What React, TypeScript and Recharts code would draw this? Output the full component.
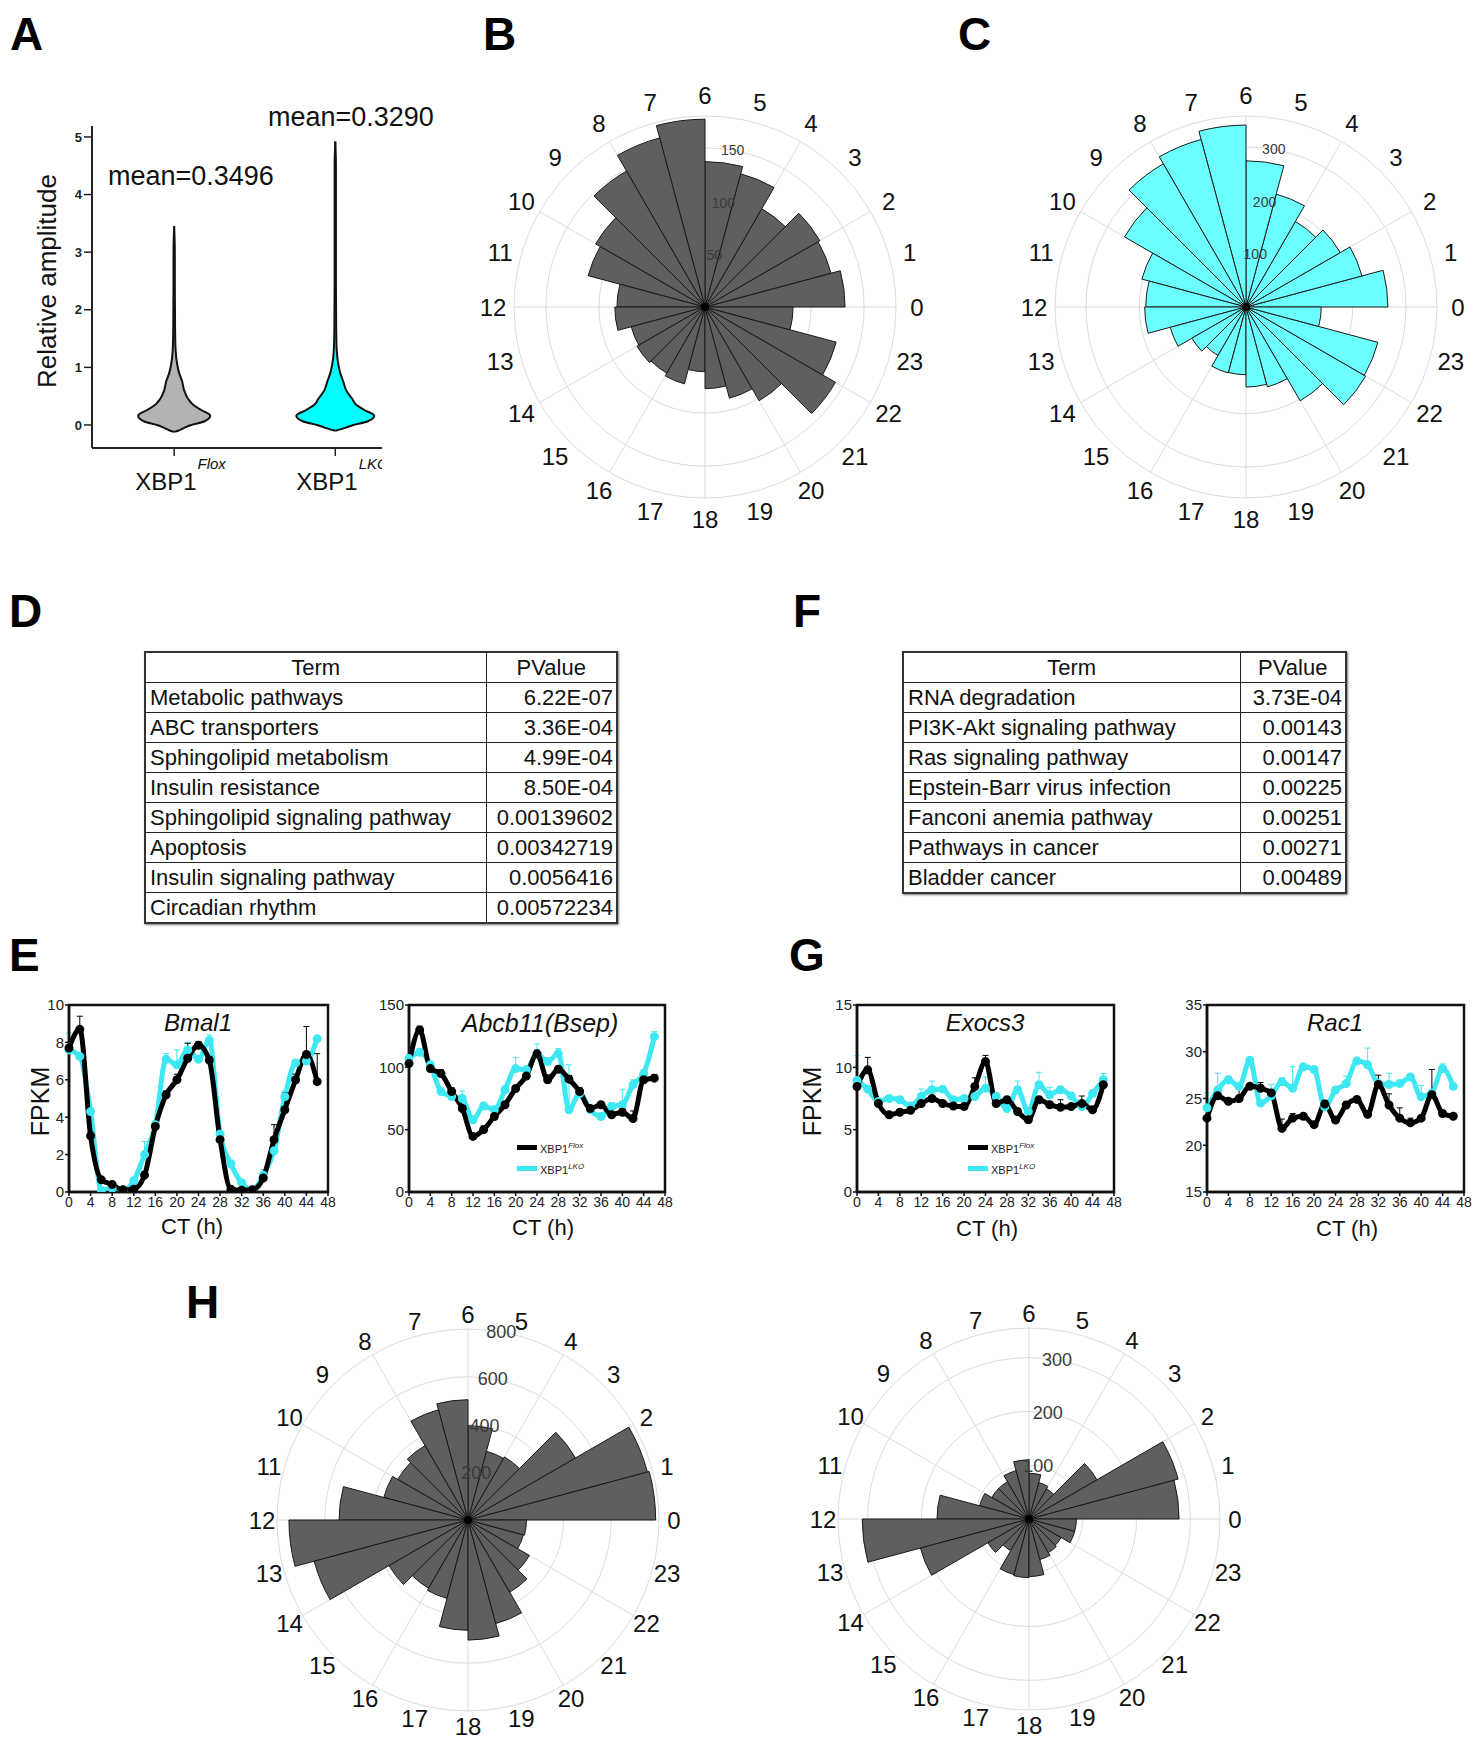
import React from "react";
import {
  RadialBarChart,
  RadialBar,
  PolarGrid,
  PolarAngleAxis,
  PolarRadiusAxis,
  ComposedChart,
  Area,
  LineChart,
  Line,
  XAxis,
  YAxis,
  ErrorBar,
  ReferenceArea,
} from "recharts";

const FONT = "'Liberation Sans', Arial, Helvetica, sans-serif";
const CYAN = "#3ee8f2";
const DARK = "#5f5f5f";

// ---------- panel A: violins (half widths in x-axis units) ----------
const floxLevels = [-0.12, -0.1, -0.05, 0, 0.06, 0.16, 0.26, 0.35, 0.45, 0.6, 0.75, 0.9, 1.05, 1.3, 1.6, 2.0, 2.5, 3.0, 3.45];
const floxHalf = [0, 0.025, 0.062, 0.106, 0.186, 0.224, 0.168, 0.118, 0.087, 0.062, 0.05, 0.031, 0.019, 0.009, 0.006, 0.005, 0.004, 0.004, 0];
const lkoLevels = [-0.1, -0.05, 0, 0.06, 0.16, 0.26, 0.35, 0.45, 0.6, 0.75, 0.9, 1.05, 1.3, 1.6, 2.0, 2.5, 3.0, 3.45, 4.0, 4.5, 4.92];
const lkoHalf = [0, 0.062, 0.112, 0.199, 0.242, 0.18, 0.13, 0.106, 0.068, 0.05, 0.031, 0.019, 0.009, 0.006, 0.005, 0.004, 0.004, 0.004, 0.004, 0.004, 0];
const violinTicks = [0, 1, 2, 3, 4, 5];

// ---------- rose plots (counts per circadian hour) ----------
const hours = Array.from({ length: 24 }, (_, i) => String(i));
const roseB = [132, 123, 125, 107, 130, 137, 177, 165, 148, 119, 114, 83, 85, 72, 74, 72, 75, 61, 77, 89, 102, 142, 128, 83];
const roseC = [266, 225, 204, 185, 219, 274, 341, 325, 310, 263, 202, 188, 190, 147, 117, 105, 128, 127, 150, 155, 203, 259, 256, 141];
const roseH1 = [786, 778, 520, 305, 298, 395, 504, 478, 360, 340, 365, 540, 750, 667, 382, 330, 340, 462, 503, 449, 349, 297, 240, 245];
const roseH2 = [279, 287, 146, 65, 70, 85, 110, 93, 80, 80, 95, 171, 310, 209, 88, 68, 107, 109, 107, 78, 72, 69, 88, 88];

// ---------- time courses ----------
const ct = [0, 2, 4, 6, 8, 10, 12, 14, 16, 18, 20, 22, 24, 26, 28, 30, 32, 34, 36, 38, 40, 42, 44, 46];
const ctTicks = [0, 4, 8, 12, 16, 20, 24, 28, 32, 36, 40, 44, 48];

const bmalFlox = [7.7, 8.7, 3.0, 0.65, 0.4, 0.12, 0.15, 0.9, 3.5, 5.2, 6.0, 7.15, 7.85, 7.05, 2.8, 0.15, 0.1, 0.12, 0.75, 2.8, 4.4, 6.0, 7.35, 5.9];
const bmalLko = [7.6, 7.25, 4.3, 0.1, 0.2, 0.1, 0.6, 2.0, 3.6, 7.1, 6.8, 7.6, 7.1, 8.1, 3.1, 1.5, 0.5, 0.1, 0.9, 2.2, 5.1, 6.9, 7.0, 8.2];
const bmalFloxErr = [0.3, 0.7, 0.2, 0.1, 0.1, 0.1, 0.1, 0.2, 0.2, 0.2, 0.3, 0.8, 0.2, 0.2, 0.2, 0.1, 0.1, 0.1, 0.2, 0.8, 0.9, 0.3, 1.5, 1.5];
const bmalLkoErr = [0.9, 0.2, 0.2, 0.1, 0.1, 0.1, 0.1, 0.7, 0.2, 0.3, 0.8, 0.4, 0.2, 0.3, 0.1, 0.2, 0.1, 0.1, 0.3, 0.1, 0.3, 0.1, 0.2, 0.1];

const abcbFlox = [103, 130, 99, 95, 80.6, 67, 44.6, 50, 60.6, 70, 83, 93, 110.8, 90, 98.5, 90.5, 80.6, 67, 70, 62, 64, 59, 90, 91.3];
const abcbLko = [107, 112, 102, 80.6, 76.6, 75, 58, 69, 66, 82, 99, 98, 110.8, 104.6, 111, 66, 79, 66, 60.6, 68.6, 70, 86, 95, 124.6];
const abcbFloxErr = [2, 3, 2, 3, 3, 2, 2, 3, 2, 2, 2, 3, 3, 4, 2, 3, 3, 2, 2, 2, 3, 6, 3, 3];
const abcbLkoErr = [3, 3, 3, 3, 3, 6, 3, 2, 3, 3, 9, 3, 8, 3, 4, 36, 3, 3, 3, 3, 12, 4, 3, 4];

const exoFlox = [8.46, 9.8, 7.1, 6.2, 6.4, 6.55, 7.1, 7.5, 7.1, 6.9, 6.85, 8.46, 10.46, 7.1, 7.4, 6.45, 5.8, 7.4, 7.0, 6.8, 6.85, 7.1, 6.6, 8.6];
const exoLko = [8.94, 8.25, 7.26, 7.5, 7.4, 6.9, 7.66, 8.2, 8.25, 7.4, 7.5, 7.66, 8.33, 7.66, 6.7, 8.2, 6.45, 8.6, 7.8, 8.2, 7.7, 6.85, 7.9, 9.0];
const exoFloxErr = [0.2, 1.0, 0.2, 0.2, 0.2, 0.2, 0.2, 0.2, 0.2, 0.2, 0.2, 0.7, 0.5, 0.2, 0.2, 0.2, 0.2, 0.2, 0.2, 0.6, 0.2, 0.6, 0.2, 0.4];
const exoLkoErr = [2.0, 0.2, 0.2, 0.2, 0.2, 0.2, 0.6, 0.7, 0.2, 0.2, 0.2, 0.2, 0.9, 0.2, 0.2, 0.7, 0.2, 1.0, 0.6, 0.2, 0.2, 0.2, 0.2, 0.5];

const racFlox = [22.9, 25.3, 24.7, 25.0, 26.3, 26.1, 25.6, 21.8, 22.9, 23.1, 22.2, 24.4, 22.7, 24.3, 24.9, 23.3, 26.5, 24.3, 22.9, 22.4, 22.9, 25.4, 23.4, 23.1];
const racLko = [24.0, 25.9, 27.0, 26.3, 29.1, 24.5, 25.3, 26.8, 26.1, 28.4, 28.1, 24.1, 25.9, 26.6, 29.0, 28.6, 26.6, 26.5, 26.6, 27.3, 25.2, 25.6, 28.2, 26.3];
const racFloxErr = [0.2, 0.3, 0.2, 1.0, 0.2, 0.6, 0.2, 1.0, 0.5, 0.2, 0.2, 0.4, 0.2, 0.3, 0.2, 0.2, 1.0, 1.2, 1.1, 0.5, 0.2, 2.7, 0.2, 0.2];
const racLkoErr = [1.6, 1.8, 0.3, 0.2, 0.2, 0.2, 1.2, 0.4, 2.3, 0.2, 0.2, 0.2, 0.2, 0.8, 0.2, 1.8, 0.2, 1.2, 0.2, 0.2, 1.2, 0.2, 0.5, 0.2];

// ---------- KEGG tables ----------
const termsD = ["Metabolic pathways", "ABC transporters", "Sphingolipid metabolism", "Insulin resistance", "Sphingolipid signaling pathway", "Apoptosis", "Insulin signaling pathway", "Circadian rhythm"];
const pvalsD = ["6.22E-07", "3.36E-04", "4.99E-04", "8.50E-04", "0.00139602", "0.00342719", "0.0056416", "0.00572234"];
const termsF = ["RNA degradation", "PI3K-Akt signaling pathway", "Ras signaling pathway", "Epstein-Barr virus infection", "Fanconi anemia pathway", "Pathways in cancer", "Bladder cancer"];
const pvalsF = ["3.73E-04", "0.00143", "0.00147", "0.00225", "0.00251", "0.00271", "0.00489"];

const floxRows = floxLevels.map((amp, i) => ({ amp, v: [1 - floxHalf[i], 1 + floxHalf[i]] }));
const lkoRows = lkoLevels.map((amp, i) => ({ amp, v: [2 - lkoHalf[i], 2 + lkoHalf[i]] }));

function Letter({ ch, left, top }: { ch: string; left: number; top: number }) {
  return (
    <div style={{ position: "absolute", left, top, fontSize: 46, fontWeight: 700, lineHeight: "46px", fontFamily: FONT }}>{ch}</div>
  );
}

function Txt({ children, left, top, size, italic, width, align, rotate }: any) {
  return (
    <div
      style={{
        position: "absolute",
        left,
        top,
        width,
        fontSize: size,
        lineHeight: `${size}px`,
        fontFamily: FONT,
        fontStyle: italic ? "italic" : "normal",
        textAlign: align || "left",
        whiteSpace: "nowrap",
        transform: rotate ? `rotate(${rotate}deg)` : undefined,
        color: "#111",
      }}
    >
      {children}
    </div>
  );
}

const xbpTick = (props: any) => {
  const sup = props.payload.value === 1 ? "Flox" : "LKO";
  return (
    <text x={props.x - 39} y={props.y + 32} fontSize={24} fontFamily={FONT} fill="#111">
      XBP1
      <tspan dx={1} dy={-21} fontSize={15} fontStyle="italic">{sup}</tspan>
    </text>
  );
};

// one violin per chart; the two charts share the same plot box and are stacked
function Violin({ rows, fill, showAxes }: { rows: any[]; fill: string; showAxes: boolean }) {
  const axisStroke = { stroke: "#222", strokeWidth: 2 };
  return (
    <div style={{ position: "absolute", left: 0, top: 0 }}>
      <ComposedChart layout="vertical" width={382} height={520} data={rows} margin={{ top: 126, right: 0, bottom: 0, left: 0 }}>
        <XAxis type="number" domain={[0.49, 2.29]} allowDataOverflow ticks={[1, 2]} tick={showAxes ? xbpTick : false} tickSize={8} height={72}
          axisLine={showAxes ? axisStroke : false} tickLine={showAxes ? { stroke: "#222", strokeWidth: 1.5 } : false} />
        <YAxis type="number" dataKey="amp" reversed domain={[-0.4, 5.19]} allowDataOverflow ticks={violinTicks} width={92} tickSize={8}
          tickMargin={2} axisLine={showAxes ? axisStroke : false} tickLine={showAxes ? { stroke: "#222", strokeWidth: 1.5 } : false}
          tick={showAxes ? { fontSize: 13, fontWeight: 700, fill: "#222", fontFamily: FONT } : false} />
        <Area dataKey="v" type="monotone" fill={fill} fillOpacity={1} stroke="#111" strokeWidth={2} isAnimationActive={false} />
      </ComposedChart>
    </div>
  );
}

function Rose({ values, rmax, rings, fill, cx, cy, labelR, ringFont }: { values: number[]; rmax: number; rings: number[]; fill: string; cx: number; cy: number; labelR: number; ringFont: number }) {
  const size = 500;
  const c = 250;
  const R = 191;
  const data = hours.map((h, i) => ({ hour: h, n: values[i] }));
  const ringRadii = [...rings, rmax].filter((v, i, a) => a.indexOf(v) === i).map((v) => (R * v) / rmax);
  const spokes = Array.from({ length: 12 }, (_, i) => i * 30);
  const hourTick = (p: any) => {
    const a = (Number(p.payload.value) * 15 * Math.PI) / 180;
    return (
      <text x={c + labelR * Math.cos(a)} y={c - labelR * Math.sin(a)} textAnchor="middle" dominantBaseline="central" fontSize={24} fontFamily={FONT} fill="#111">
        {p.payload.value}
      </text>
    );
  };
  const ringTick = (p: any) => (
    <text x={p.x} y={p.y} textAnchor="middle" dominantBaseline="central" fontSize={ringFont} fontFamily={FONT} fill="#3a3a3a">
      {p.payload.value}
    </text>
  );
  return (
    <div style={{ position: "absolute", left: cx - c, top: cy - c }}>
      <RadialBarChart width={size} height={size} cx={c} cy={c} innerRadius={0} outerRadius={R} data={data} layout="centric"
        startAngle={15} endAngle={375} barCategoryGap={0} barGap={0}>
        <PolarGrid gridType="circle" polarAngles={spokes} polarRadius={ringRadii} stroke="#dcdcdc" strokeWidth={1} />
        <PolarAngleAxis type="category" dataKey="hour" axisLine={false} tickLine={false} tick={hourTick} />
        <PolarRadiusAxis type="number" domain={[0, rmax]} allowDataOverflow angle={80} ticks={rings} axisLine={false} tickLine={false} tick={ringTick} />
        <RadialBar dataKey="n" fill={fill} stroke="#1a1a1a" strokeWidth={1} isAnimationActive={false} />
      </RadialBarChart>
      <div style={{ position: "absolute", left: c - 4, top: c - 4, width: 8, height: 8, borderRadius: 4, background: "#000" }} />
    </div>
  );
}

function Table({ terms, pvals, left, top, width, col1 }: { terms: string[]; pvals: string[]; left: number; top: number; width: number; col1: number }) {
  const td: React.CSSProperties = { border: "1px solid #222", height: 29, padding: "0 4px", lineHeight: "28px" };
  return (
    <table style={{ position: "absolute", left, top, width, borderCollapse: "collapse", fontFamily: FONT, fontSize: 22, color: "#111", border: "2px solid #333", boxShadow: "1px 1px 2px #777", tableLayout: "fixed" }}>
      <colgroup>
        <col style={{ width: col1 }} />
        <col />
      </colgroup>
      <tbody>
        <tr>
          <td style={{ ...td, textAlign: "center" }}>Term</td>
          <td style={{ ...td, textAlign: "center" }}>PValue</td>
        </tr>
        {terms.map((t, i) => (
          <tr key={t}>
            <td style={{ ...td, whiteSpace: "nowrap" }}>{t}</td>
            <td style={{ ...td, textAlign: "right", padding: "0 3px 0 0" }}>{pvals[i]}</td>
          </tr>
        ))}
      </tbody>
    </table>
  );
}

function TimeCourse({ left, width, rightPad, yAxisW, domain, ticks, flox, lko, floxErr, lkoErr }: any) {
  const rows = ct.map((t, i) => ({ t, flox: flox[i], lko: lko[i], fe: [0, floxErr[i]], le: [0, lkoErr[i]] }));
  return (
    <div style={{ position: "absolute", left, top: 990 }}>
      <LineChart width={width} height={230} data={rows} margin={{ top: 15, right: rightPad, bottom: 3, left: 0 }}>
        <XAxis type="number" dataKey="t" domain={[0, 48]} ticks={ctTicks} interval={0} height={25} tickSize={4} tickMargin={1}
          axisLine={{ stroke: "#111", strokeWidth: 2.5 }} tickLine={{ stroke: "#111", strokeWidth: 1.5 }}
          tick={{ fontSize: 14, fill: "#222", fontFamily: FONT }} />
        <YAxis type="number" domain={domain} allowDataOverflow ticks={ticks} width={yAxisW} tickSize={4} tickMargin={1}
          axisLine={{ stroke: "#111", strokeWidth: 2.5 }} tickLine={{ stroke: "#111", strokeWidth: 1.5 }}
          tick={{ fontSize: 15, fill: "#222", fontFamily: FONT }} />
        <ReferenceArea x1={0} x2={48} y1={domain[0]} y2={domain[1]} fill="none" stroke="#111" strokeWidth={2.5} ifOverflow="visible" />
        <Line dataKey="lko" type="monotone" stroke={CYAN} strokeWidth={5} dot={{ r: 2, fill: CYAN, stroke: CYAN }} isAnimationActive={false}>
          <ErrorBar dataKey="le" direction="y" width={3} stroke={CYAN} strokeWidth={1} />
        </Line>
        <Line dataKey="flox" type="monotone" stroke="#000" strokeWidth={5} dot={{ r: 2, fill: "#000", stroke: "#000" }} isAnimationActive={false}>
          <ErrorBar dataKey="fe" direction="y" width={3} stroke="#000" strokeWidth={1} />
        </Line>
      </LineChart>
    </div>
  );
}

function MiniLegend({ left, top }: { left: number; top: number }) {
  const item = (color: string, sup: string, y: number) => (
    <div style={{ position: "absolute", left: 0, top: y, display: "flex", alignItems: "center", whiteSpace: "nowrap" }}>
      <span style={{ display: "inline-block", width: 20, height: 5, background: color, marginRight: 3 }} />
      <span style={{ fontSize: 11, fontFamily: FONT, color: "#222" }}>
        XBP1<sup style={{ fontSize: 8, fontStyle: "italic" }}>{sup}</sup>
      </span>
    </div>
  );
  return (
    <div style={{ position: "absolute", left, top }}>
      {item("#000", "Flox", 0)}
      {item(CYAN, "LKO", 21)}
    </div>
  );
}

export default function App() {
  return (
    <div style={{ position: "absolute", left: 0, top: 0, width: 1474, height: 1740, background: "#fff", overflow: "hidden", fontFamily: FONT }}>
      <Letter ch="A" left={10} top={11} />
      <Letter ch="B" left={483} top={11} />
      <Letter ch="C" left={958} top={11} />
      <Letter ch="D" left={9} top={588} />
      <Letter ch="E" left={9} top={932} />
      <Letter ch="F" left={793} top={588} />
      <Letter ch="G" left={789} top={932} />
      <Letter ch="H" left={186} top={1279} />

      {/* A */}
      <Violin rows={floxRows} fill="#b3b3b3" showAxes />
      <Violin rows={lkoRows} fill="#00ffff" showAxes={false} />
      <Txt left={108} top={163} size={27}>mean=0.3496</Txt>
      <Txt left={268} top={104} size={27}>mean=0.3290</Txt>
      <Txt left={-103} top={268} width={300} size={26} align="center" rotate={-90}>Relative amplitude</Txt>

      {/* B, C */}
      <Rose values={roseB} rmax={180} rings={[50, 100, 150]} fill={DARK} cx={705} cy={307} labelR={212} ringFont={14} />
      <Rose values={roseC} rmax={358} rings={[100, 200, 300]} fill="#6cffff" cx={1246} cy={307} labelR={212} ringFont={14} />

      {/* D, F */}
      <Table terms={termsD} pvals={pvalsD} left={144} top={651} width={474} col1={341} />
      <Table terms={termsF} pvals={pvalsF} left={902} top={651} width={445} col1={337} />

      {/* E */}
      <TimeCourse left={10} width={334} rightPad={16} yAxisW={59} domain={[0, 10]} ticks={[0, 2, 4, 6, 8, 10]} flox={bmalFlox} lko={bmalLko} floxErr={bmalFloxErr} lkoErr={bmalLkoErr} />
      <TimeCourse left={350} width={331} rightPad={16} yAxisW={59} domain={[0, 150]} ticks={[0, 50, 100, 150]} flox={abcbFlox} lko={abcbLko} floxErr={abcbFloxErr} lkoErr={abcbLkoErr} />
      <Txt left={98} top={1011} width={200} size={24} italic align="center">Bmal1</Txt>
      <Txt left={390} top={1011} width={300} size={25} italic align="center">Abcb11(Bsep)</Txt>
      <Txt left={-60} top={1089} width={200} size={25} align="center" rotate={-90}>FPKM</Txt>
      <Txt left={92} top={1216} width={200} size={22} align="center">CT (h)</Txt>
      <Txt left={443} top={1217} width={200} size={22} align="center">CT (h)</Txt>
      <MiniLegend left={517} top={1141} />

      {/* G */}
      <TimeCourse left={780} width={350} rightPad={16} yAxisW={77} domain={[0, 15]} ticks={[0, 5, 10, 15]} flox={exoFlox} lko={exoLko} floxErr={exoFloxErr} lkoErr={exoLkoErr} />
      <TimeCourse left={1130} width={344} rightPad={10} yAxisW={77} domain={[15, 35]} ticks={[15, 20, 25, 30, 35]} flox={racFlox} lko={racLko} floxErr={racFloxErr} lkoErr={racLkoErr} />
      <Txt left={885} top={1011} width={200} size={24} italic align="center">Exocs3</Txt>
      <Txt left={1235} top={1011} width={200} size={24} italic align="center">Rac1</Txt>
      <Txt left={712} top={1089} width={200} size={25} align="center" rotate={-90}>FPKM</Txt>
      <Txt left={887} top={1218} width={200} size={22} align="center">CT (h)</Txt>
      <Txt left={1247} top={1218} width={200} size={22} align="center">CT (h)</Txt>
      <MiniLegend left={968} top={1141} />

      {/* H */}
      <Rose values={roseH1} rmax={800} rings={[200, 400, 600, 800]} fill={DARK} cx={468} cy={1520} labelR={206} ringFont={18} />
      <Rose values={roseH2} rmax={355} rings={[100, 200, 300]} fill={DARK} cx={1029} cy={1519} labelR={206} ringFont={18} />
    </div>
  );
}
